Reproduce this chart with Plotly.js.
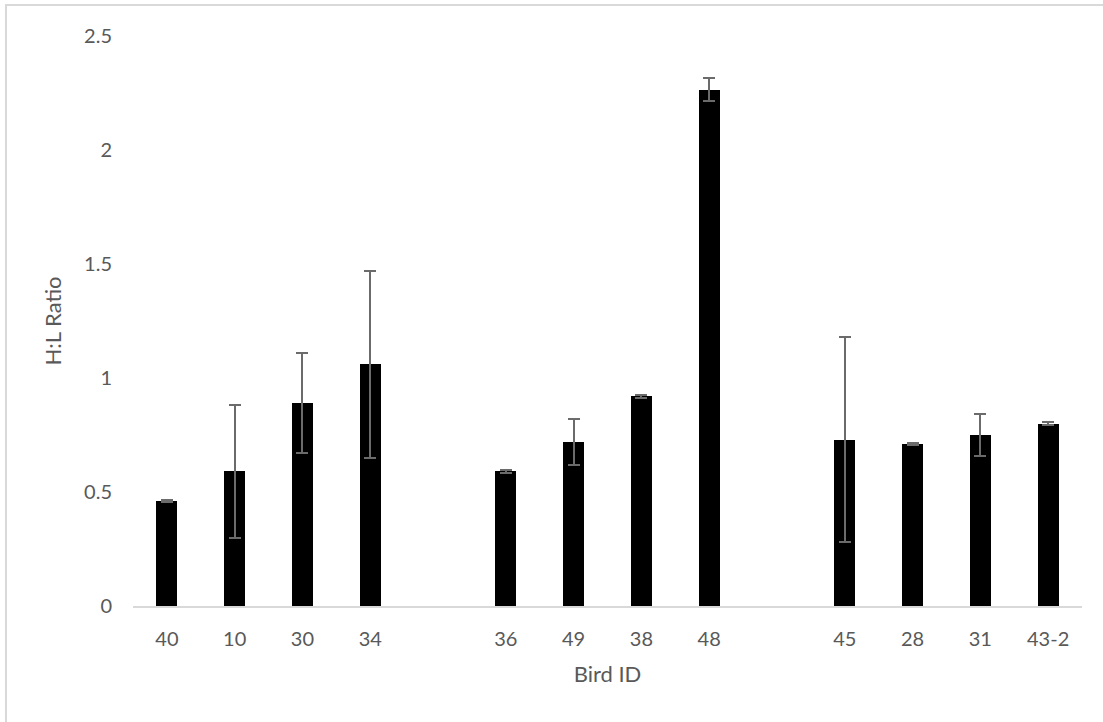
<!DOCTYPE html>
<html>
<head>
<meta charset="utf-8">
<script src="https://cdn.plot.ly/plotly-3.0.1.min.js"></script>
<style>
  html, body { margin: 0; padding: 0; background: #ffffff; }
  #chart { width: 1103px; height: 722px; }
  #frame { position: absolute; left: 5px; top: 4px; width: 1200px; height: 900px;
           border-left: 2px solid #d9d9d9; border-top: 2px solid #d9d9d9; pointer-events: none; }
</style>
</head>
<body>
<div id="chart"></div>
<div id="frame"></div>
<script>
// Bird IDs in plotted order; "" marks an empty slot between groups
const birdIds = ["40", "10", "30", "34", "", "36", "49", "38", "48", "", "45", "28", "31", "43-2"];
// H:L ratio (mean) per bird
const hlRatio = [0.46, 0.59, 0.89, 1.06, null, 0.59, 0.72, 0.92, 2.265, null, 0.73, 0.71, 0.75, 0.80];
// error (+/-) per bird
const hlError = [0.003, 0.29, 0.22, 0.41, null, 0.005, 0.10, 0.007, 0.05, null, 0.45, 0.003, 0.09, 0.008];
const yTicks = [0, 0.5, 1, 1.5, 2, 2.5];
const yTickText = ["0", "0.5", "1", "1.5", "2", "2.5"];

const slots = birdIds.map((_, i) => i);

const trace = {
  type: "bar",
  x: slots,
  y: hlRatio,
  width: 0.31,
  marker: { color: "#000000", line: { width: 0 } },
  error_y: {
    type: "data",
    array: hlError,
    visible: true,
    color: "#6b6b6b",
    thickness: 2,
    width: 6
  },
  hoverinfo: "x+y"
};

const fontFam = "Lato, 'Open Sans', sans-serif";

const layout = {
  width: 1103,
  height: 722,
  paper_bgcolor: "#ffffff",
  plot_bgcolor: "#ffffff",
  margin: { l: 133, r: 21, t: 36, b: 116 },
  showlegend: false,
  bargap: 0,
  xaxis: {
    range: [-0.5, 13.5],
    tickmode: "array",
    tickvals: slots,
    ticktext: birdIds,
    ticks: "",
    showgrid: false,
    zeroline: false,
    showline: true,
    linecolor: "#d9d9d9",
    linewidth: 2,
    ticklabelstandoff: 14,
    tickfont: { family: fontFam, size: 20, color: "#595959" },
    title: { text: "Bird ID", font: { family: fontFam, size: 22, color: "#595959" }, standoff: 18 },
    fixedrange: true
  },
  yaxis: {
    range: [0, 2.5],
    tickmode: "array",
    tickvals: yTicks,
    ticktext: yTickText,
    ticks: "",
    showgrid: false,
    zeroline: false,
    showline: false,
    ticklabelstandoff: 20,
    tickfont: { family: fontFam, size: 20, color: "#595959" },
    title: { text: "H:L Ratio", font: { family: fontFam, size: 22, color: "#595959" }, standoff: 16 },
    fixedrange: true
  }
};

Plotly.newPlot("chart", [trace], layout, { displayModeBar: false, staticPlot: true });
</script>
</body>
</html>
